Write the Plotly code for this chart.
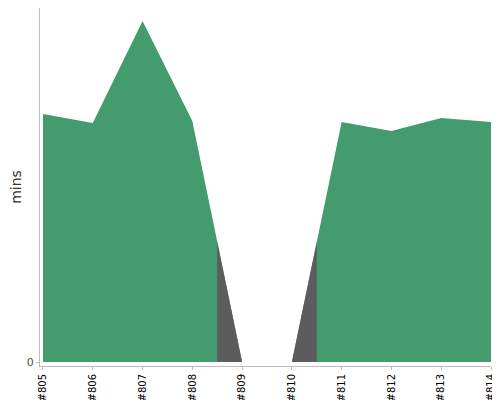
import plotly.graph_objects as go

builds = ["#805", "#806", "#807", "#808", "#809", "#810", "#811", "#812", "#813", "#814"]
durations = [24.8, 23.9, 34.1, 24.1, 0.0, 0.0, 24.0, 23.1, 24.4, 24.0]
status = ["success", "success", "success", "success", "aborted", "aborted",
          "success", "success", "success", "success"]

GREEN = "#449c6e"
GRAY = "#5c5c5c"
AXIS = "#bdbdbd"

idx = list(range(len(builds)))
fig = go.Figure()

# full area in green
fig.add_trace(go.Scatter(x=idx, y=durations, mode="lines", fill="tozeroy",
                         fillcolor=GREEN, line=dict(width=0, color=GREEN),
                         hoverinfo="skip", showlegend=False))

# overlay the non-success builds (from midpoint to midpoint)
px, py = [], []
n = len(builds)
for i, s in enumerate(status):
    if s == "success":
        continue
    xl = max(i - 0.5, 0)
    xr = min(i + 0.5, n - 1)
    ml = (durations[i - 1] + durations[i]) / 2 if i > 0 else durations[i]
    mr = (durations[i] + durations[i + 1]) / 2 if i < n - 1 else durations[i]
    px += [xl, xl, i, xr, xr, xl, None]
    py += [0, ml, durations[i], mr, 0, 0, None]
fig.add_trace(go.Scatter(x=px, y=py, mode="lines", fill="toself",
                         fillcolor=GRAY, line=dict(width=0, color=GRAY),
                         hoverinfo="skip", showlegend=False))

fig.update_layout(
    width=500, height=400,
    margin=dict(l=32, r=17, t=0, b=42, autoexpand=False),
    paper_bgcolor="white", plot_bgcolor="white",
    font=dict(family="DejaVu Sans", color="#000"),
    xaxis=dict(range=[-0.06, 9.0], tickmode="array", tickvals=idx, ticktext=builds,
               tickangle=-90, tickfont=dict(size=10, color="#000"), automargin=False,
               showgrid=False, zeroline=False, showline=True, linecolor=AXIS,
               linewidth=1, ticks="outside", ticklen=3, tickcolor=AXIS),
    yaxis=dict(range=[-0.4, 35.4], tickmode="array", tickvals=[0], ticktext=["0"],
               tickfont=dict(size=11, color="#555"), automargin=False,
               showgrid=False, zeroline=False, showline=True, linecolor=AXIS,
               linewidth=1, ticks="outside", ticklen=3, tickcolor=AXIS,
               title=dict(text="mins", font=dict(size=14, color="#333"), standoff=14)),
)

fig.write_html("out.html")
